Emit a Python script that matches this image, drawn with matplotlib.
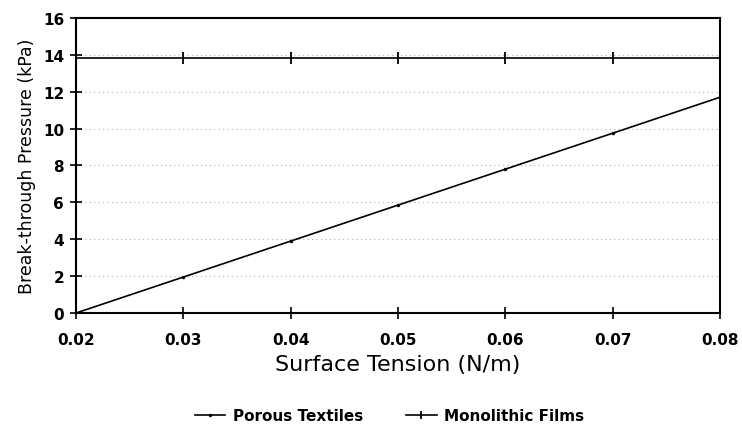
import matplotlib
matplotlib.use("Agg")
from matplotlib import pyplot as plt

surface_tension = [0.02, 0.03, 0.04, 0.05, 0.06, 0.07, 0.08]
porous_textiles = [0.0, 1.95, 3.9, 5.85, 7.8, 9.75, 11.7]
monolithic_films = [13.85, 13.85, 13.85, 13.85, 13.85, 13.85, 13.85]
x_ticks = [0.02, 0.03, 0.04, 0.05, 0.06, 0.07, 0.08]
y_ticks = [0, 2, 4, 6, 8, 10, 12, 14, 16]

plt.rcParams['font.family'] = ['DejaVu Sans']

fig = plt.figure(figsize=(7.42, 4.27), dpi=100)
ax = fig.add_axes([0.1024, 0.2646, 0.8679, 0.691])

ax.plot(surface_tension, porous_textiles, color='black', lw=1.2,
        marker='.', markersize=3, label='Porous Textiles')
ax.plot(surface_tension, monolithic_films, color='black', lw=1.2,
        marker='|', markersize=8, markeredgewidth=1.3, label='Monolithic Films')

ax.set_xlim(0.02, 0.08)
ax.set_ylim(0, 16)
ax.set_xticks(x_ticks)
ax.set_yticks(y_ticks)
ax.set_xticklabels(['%.2f' % v for v in x_ticks], fontweight='bold', fontsize=11)
ax.set_yticklabels([str(v) for v in y_ticks], fontweight='bold', fontsize=11)
ax.tick_params(direction='inout', length=9, width=1.2, color='black')
ax.tick_params(axis='x', pad=9)
ax.tick_params(axis='y', pad=4)

for side in ['left', 'bottom', 'top', 'right']:
    ax.spines[side].set_linewidth(1.5)

ax.grid(axis='y', color='#b0b0b0', linestyle=(0, (1, 3)), lw=0.8)
ax.set_axisbelow(True)

ax.set_xlabel('Surface Tension (N/m)', fontsize=16, labelpad=5)
ax.set_ylabel('Break-through Pressure (kPa)', fontsize=12.5, labelpad=5)

leg = fig.legend(loc='center', bbox_to_anchor=(0.525, 0.024), ncol=2, frameon=False,
                 prop={'weight': 'bold', 'size': 11}, handlelength=2.0,
                 handletextpad=0.5, columnspacing=2.8)
leg.legend_handles[1].set_markersize(6)

fig.savefig('out.png', dpi=100)
